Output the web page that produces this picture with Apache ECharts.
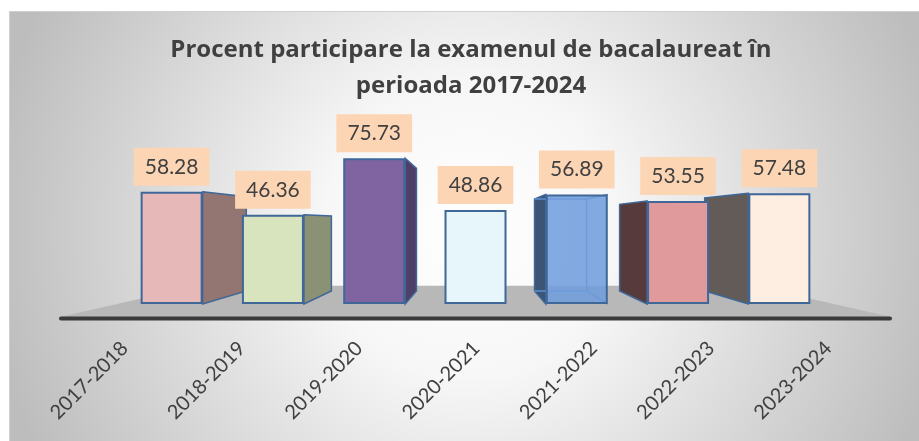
<!DOCTYPE html>
<html>
<head>
<meta charset="utf-8">
<script src="https://cdn.jsdelivr.net/npm/echarts@6/dist/echarts.min.js"></script>
<style>
html,body{margin:0;padding:0;background:#fff}
#chart{width:919px;height:441px}
</style>
</head>
<body>
<div id="chart"></div>
<script>
// date
const categories = ['2017-2018', '2018-2019', '2019-2020', '2020-2021', '2021-2022', '2022-2023', '2023-2024']
const values = [58.28, 46.36, 75.73, 48.86, 56.89, 53.55, 57.48]

// culori fata / lateral
const frontColors = ['#E6B9B8', '#D7E4BD', '#8064A2', '#E6F6FB', 'rgba(110,156,220,0.85)', '#E09A9B', '#FEEEE1']
const sideColors = ['#937572', '#8A9175', '#4F3E68', '#9BB', '#3D5574', '#563A3C', '#625B57']

const barW = 62
const depth = 0.16      // cat de mult se retrage fata din spate spre punctul de fuga
const floorDepth = 0.33
const vanish = [3, 42.5] // punct de fuga (categorie, valoare)
const edgeColor = '#3F6798'

const chart = echarts.init(document.getElementById('chart'))

function toward(p, vp, k){
    return [p[0] + (vp[0] - p[0]) * k, p[1] + (vp[1] - p[1]) * k]
}

function renderSide(params, api){
    const i = api.value(0)
    const top = api.coord([i, api.value(1)])
    const base = api.coord([i, 0])
    const vp = api.coord(vanish)
    const x0 = top[0] - barW / 2, x1 = top[0] + barW / 2
    const y0 = top[1], y1 = base[1]
    const children = []
    const col = sideColors[i]
    // bara transparenta: muchiile din spate se vad prin fata
    if (i === 4) {
        const b00 = toward([x0, y0], vp, depth), b10 = toward([x1, y0], vp, depth)
        const b01 = toward([x0, y1], vp, depth), b11 = toward([x1, y1], vp, depth)
        children.push({
            type: 'polygon',
            shape: {points: [[x0, y0], b00, b01, [x0, y1]]},
            style: {fill: col, stroke: edgeColor, lineWidth: 1.5}
        })
        children.push({
            type: 'polyline',
            shape: {points: [b00, b10, b11, b01]},
            style: {fill: null, stroke: '#5E8FD2', lineWidth: 1.5}
        })
        children.push({type: 'line', shape: {x1: b10[0], y1: b10[1], x2: x1, y2: y0}, style: {stroke: '#5E8FD2', lineWidth: 1.5}})
        children.push({type: 'line', shape: {x1: b11[0], y1: b11[1], x2: x1, y2: y1}, style: {stroke: '#5E8FD2', lineWidth: 1.5}})
        return {type: 'group', children: children}
    }
    if (x1 < vp[0] - 1) {
        const bt = toward([x1, y0], vp, depth), bb = toward([x1, y1], vp, depth)
        children.push({
            type: 'polygon',
            shape: {points: [[x1, y0], bt, bb, [x1, y1]]},
            style: {fill: col, stroke: edgeColor, lineWidth: 1.5}
        })
    } else if (x0 > vp[0] + 1) {
        const bt = toward([x0, y0], vp, depth), bb = toward([x0, y1], vp, depth)
        children.push({
            type: 'polygon',
            shape: {points: [[x0, y0], bt, bb, [x0, y1]]},
            style: {fill: col, stroke: edgeColor, lineWidth: 1.5}
        })
    }
    return {type: 'group', children: children}
}

function renderFloor(params, api){
    const cs = params.coordSys
    const vp = api.coord(vanish)
    const fy = api.coord([0, 0])[1] + 13
    const fl = [cs.x - 61, fy], fr = [cs.x + cs.width + 61, fy]
    const bl = toward(fl, vp, floorDepth), br = toward(fr, vp, floorDepth)
    return {
        type: 'group',
        children: [
            {type: 'polygon', shape: {points: [fl, bl, br, fr]}, style: {fill: '#B8B8B8'}},
            {type: 'line', shape: {x1: fl[0] + 1, y1: fy + 1.5, x2: fr[0] - 1, y2: fy + 1.5},
             style: {stroke: '#3B3B3B', lineWidth: 4, lineCap: 'round'}}
        ]
    }
}

const option = {
    backgroundColor: '#fff',
    graphic: [{
        type: 'rect',
        z: -10,
        shape: {x: 9.5, y: 11.5, width: 920, height: 440},
        style: {
            fill: {
                type: 'radial', x: 0.5, y: 0.5, r: 1.1,
                colorStops: [
                    {offset: 0, color: '#ffffff'},
                    {offset: 0.3, color: '#f7f7f7'},
                    {offset: 1, color: '#bdbdbd'}
                ]
            },
            stroke: '#cfcfcf', lineWidth: 1
        }
    }],
    title: {
        text: 'Procent participare la examenul de bacalaureat în\nperioada 2017-2024',
        left: 466,
        top: 27,
        textAlign: 'center',
        textStyle: {
            fontFamily: 'Open Sans', fontWeight: 'bold', fontSize: 24,
            lineHeight: 36, color: '#404040'
        }
    },
    grid: [
        {left: 121, right: 89, top: 111.5, bottom: 137},
        {left: 66, right: 32, top: 300, bottom: 121}
    ],
    xAxis: [
        {type: 'category', data: categories, gridIndex: 0,
         axisLine: {show: false}, axisTick: {show: false}, axisLabel: {show: false}},
        {type: 'category', data: categories, gridIndex: 1,
         axisLine: {show: false}, axisTick: {show: false},
         axisLabel: {rotate: 45, margin: 25, fontFamily: 'Lato', fontSize: 20, color: '#404040'}}
    ],
    yAxis: [
        {type: 'value', min: 0, max: 100, gridIndex: 0, show: false},
        {type: 'value', gridIndex: 1, show: false}
    ],
    series: [
        {
            type: 'custom', z: 1,
            renderItem: renderFloor,
            data: [[0, 0]],
            silent: true
        },
        {
            type: 'custom', z: 2,
            renderItem: renderSide,
            data: values.map((v, i) => [i, v])
        },
        {
            type: 'bar', z: 3,
            barWidth: barW,
            data: values.map((v, i) => ({
                value: v,
                itemStyle: {color: frontColors[i]}
            })),
            itemStyle: {borderColor: edgeColor, borderWidth: 2},
            label: {
                show: true, position: 'top', distance: 6,
                backgroundColor: '#FCD5B5', padding: [8, 11],
                fontFamily: 'Lato', fontSize: 21, lineHeight: 22, color: '#404040'
            }
        }
    ]
}
chart.setOption(option)
</script>
</body>
</html>
